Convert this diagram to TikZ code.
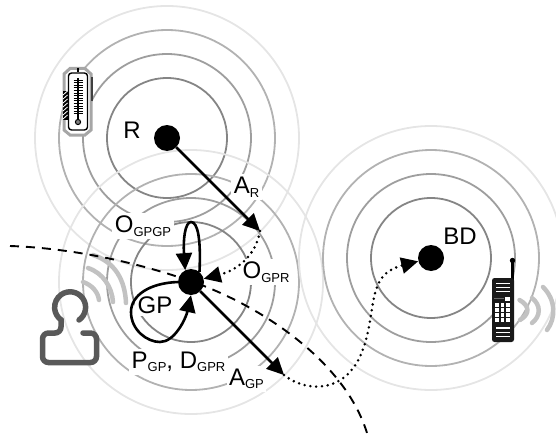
\documentclass[tikz,border=0pt]{standalone}
\usepackage{fontspec}
\setmainfont{Liberation Sans}
\usetikzlibrary{arrows.meta}
\newcommand{\lowtext}[2]{#1\raisebox{-3.5pt}{\fontsize{13}{14}\selectfont #2}}
\tikzset{
  dot/.style={circle,fill=black,minimum size=26pt,inner sep=0pt},
  lab/.style={fill=white,inner sep=2.5pt,font=\fontsize{24}{26}\selectfont},
  link/.style={line width=2.6pt,-{Triangle[length=17pt,width=16pt]}},
  hop/.style={line width=2.8pt,line cap=round,dash pattern=on 0pt off 5.8pt,-{Triangle[length=17pt,width=16pt]}},
  ring/.style={line width=1.8pt},
  wave/.style={line width=4.5pt,color=black!24,line cap=round},
  person/.style={line width=5.5pt,color=black!65,line cap=round}
}
\begin{document}
\begin{tikzpicture}[x=1pt,y=-1pt]
  \path[use as bounding box,clip] (0,0) rectangle (556,441);
  \coordinate (Rpos) at (167,138);
  \coordinate (GPpos) at (191,282);
  \coordinate (BDpos) at (431,258);
  % radio ranges
  \foreach \where in {Rpos,GPpos,BDpos}{
    \draw[ring,color=black!48] (\where) circle[radius=60];
    \draw[ring,color=black!38] (\where) circle[radius=84];
    \draw[ring,color=black!30] (\where) circle[radius=108];
    \draw[ring,color=black!10] (\where) circle[radius=132];
  }
  % labels hide the rings
  \node[lab] (lR) at (132,130) {R};
  \node[lab] (lAR) at (246.5,187) {\lowtext{A}{R}};
  \node[lab] (lOself) at (143,226) {\lowtext{O}{GPGP}};
  \node[lab] (lOGPR) at (266,272) {\lowtext{O}{GPR}};
  \node[lab] (lGP) at (155,305) {GP};
  \node[lab] (lPD) at (178.5,362) {\lowtext{P}{GP}, \lowtext{D}{GPR}};
  \node[lab] (lAGP) at (246.5,379) {\lowtext{A}{GP}};
  \node[lab,fill=none] (lBD) at (460,236) {BD};
  % thermometer
  \draw[fill=white,draw=black!35,line width=3pt] (70,68.5) -- (85,68.5) -- (91,74) -- (91,130) -- (85,135) -- (70,135) -- (64,130) -- (64,74) -- cycle;
  \draw[fill=white,line width=1.4pt,rounded corners=3pt] (68.5,73) rectangle (87.5,130);
  \draw[line width=1.5pt] (78,78) -- (78,122);
  \draw[line width=1.5pt] (78,68) -- (78,72);
  \foreach \yy in {80,82.6,...,116}
    \draw[line width=.9pt] (73.5,\yy) -- (82.5,\yy);
  \draw[fill=black!50,line width=1pt] (78,122) circle[radius=2.6];
  \fill (63,91) rectangle (67.5,120);
  \foreach \yy in {93,97,...,117}
    \draw[white,line width=.8pt] (63,\yy+2) -- (67.5,\yy-2);
  \draw[black!75,line width=1.3pt] (92,77) -- (92,101);
  % phone
  \draw[line width=3pt] (512.5,280) -- (512.5,261);
  \fill (512.5,260.5) circle[radius=2.7];
  \fill[rounded corners=2.5pt,black!90] (492,278) rectangle (514,342);
  \foreach \yy in {283.3,287.3,291.7,328,332.3,336.7}
    \draw[white,line width=1.4pt] (496,\yy) -- (510,\yy);
  \draw[black!60,line width=.8pt] (494,298) -- (504,298);
  \fill[white] (505,297) rectangle (510,301);
  \foreach \yy in {303,308,313,318}
    \foreach \xx in {495,500.5,506}
      \fill[white] (\xx,\yy) rectangle +(3.8,3.6);
  % waves
  \draw[wave] (519.5,300) .. controls (530,306) and (530,314) .. (520,320);
  \draw[wave] (532,298) .. controls (541,305) and (541,316) .. (532,323);
  \draw[wave] (543,287) .. controls (556,300) and (556,318) .. (547,330);
  \draw[wave] (83,282) .. controls (92,285) and (98,292) .. (99,300);
  \draw[wave] (88,268) .. controls (103,273) and (112,287) .. (113,302);
  \draw[wave] (93,255) .. controls (115,262) and (125,280) .. (126,303);
  % person
  \draw[person] (79,320) arc[start angle=55,end angle=-235,radius=15.5] -- (61,327) [rounded corners=6pt] -- (61,333) -- (42.5,333) -- (42.5,362.5) -- (96.5,362.5) -- (96.5,333) -- (83,333);
  % boundary
  \coordinate (edgeL) at (10,246);
  \coordinate (edgeB) at (367,433);
  \draw[line width=1.9pt,dash pattern=on 9pt off 7pt] (edgeL) .. controls (70,248) and (140,262) .. (204,286) .. controls (265,310) and (345,362) .. (edgeB);
  % nodes
  \node[dot] (R) at (Rpos) {};
  \node[dot] (GP) at (GPpos) {};
  \node[dot] (BD) at (BDpos) {};
  \coordinate (hopR) at (260,231);
  \coordinate (hopGP) at (284,375);
  \draw[link] (R) -- (hopR);
  \draw[link] (GP) -- (hopGP);
  \draw[hop] (hopR) .. controls (256,255) and (238,270) .. (GP);
  \draw[hop] (hopGP) .. controls (305,392) and (345,395) .. (362,352) .. controls (378,310) and (365,275) .. (BD);
  \draw[link] (GP.50) .. controls (201,240) and (198,222) .. (191,222) .. controls (185,222) and (183,240) .. (GP.116);
  \draw[link] (GP.180) .. controls (150,283) and (131,295) .. (131,312) .. controls (131,330) and (147,342) .. (160,342) .. controls (175,342) and (186,318) .. (GP.south);
\end{tikzpicture}
\end{document}
